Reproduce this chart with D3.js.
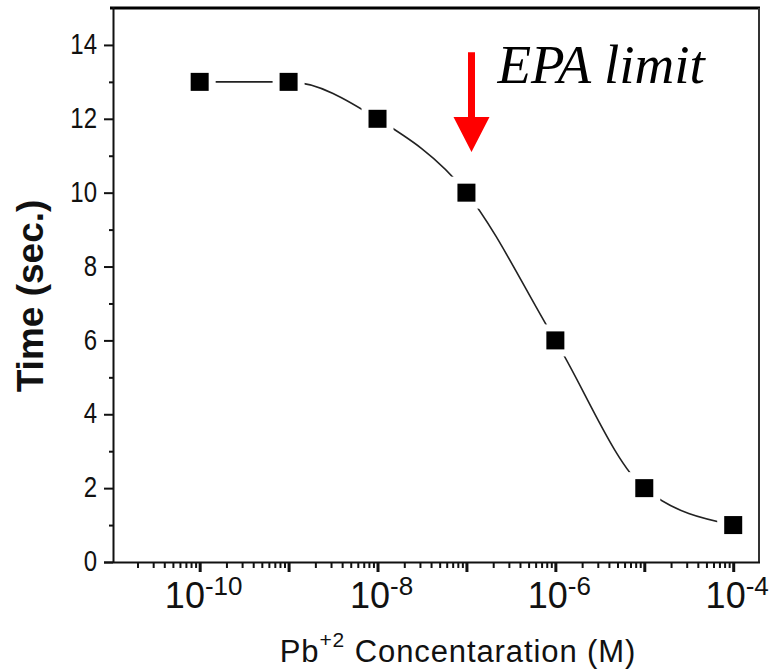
<!DOCTYPE html>
<html>
<head>
<meta charset="utf-8">
<script src="https://cdn.jsdelivr.net/npm/d3@7"></script>
<style>
  body { margin: 0; background: #fff; }
  .axis path, .axis line { stroke: #111; }
  .axis text { font-family: "Liberation Sans", Arial, sans-serif; fill: #111; }
</style>
</head>
<body>
<svg class="chart" width="774" height="671"></svg>
<script>
// data
var concentration = [1e-10, 1e-9, 1e-8, 1e-7, 1e-6, 1e-5, 1e-4];
var timeSec = [13, 13, 12, 10, 6, 2, 1];
var yTicks = [0, 2, 4, 6, 8, 10, 12, 14];
var yMinorTicks = [1, 3, 5, 7, 9, 11, 13];
var xDecades = [-10, -9, -8, -7, -6, -5, -4];
var xLabelExps = [-10, -8, -6, -4];
var epaArrow = {x: 1.14e-7, top: 13.8, tip: 11.1, label: 'EPA limit'};

var svg = d3.select('svg.chart');
var svgWidth = +svg.attr('width');
var svgHeight = +svg.attr('height');
var padding = {t: 8, r: 15, b: 109, l: 113};
var chartWidth = svgWidth - padding.l - padding.r;
var chartHeight = svgHeight - padding.t - padding.b;

var xScale = d3.scaleLog().domain([1.06e-11, 1.95e-4]).range([0, chartWidth]);
var yScale = d3.scaleLinear().domain([0, 15]).range([chartHeight, 0]);

var chartG = svg.append('g')
    .attr('transform', 'translate(' + [padding.l, padding.t] + ')');

// frame: thick top line, thin right line
chartG.append('line')
    .attr('x1', -3).attr('x2', chartWidth + 1)
    .attr('y1', 0).attr('y2', 0)
    .attr('stroke', '#000').attr('stroke-width', 3);
chartG.append('line')
    .attr('x1', chartWidth).attr('x2', chartWidth)
    .attr('y1', 0).attr('y2', chartHeight)
    .attr('stroke', '#333').attr('stroke-width', 2);

// minor x ticks (2..9 in each decade)
var xMinor = [];
for (var e = -11; e <= -4; e++) {
  for (var m = 2; m <= 9; m++) {
    var v = m * Math.pow(10, e);
    if (v > xScale.domain()[0] && v < xScale.domain()[1]) xMinor.push(v);
  }
}
var xMinorG = chartG.append('g')
    .attr('class', 'x axis')
    .attr('transform', 'translate(0,' + chartHeight + ')')
    .call(d3.axisBottom(xScale).tickValues(xMinor).tickSize(6).tickSizeOuter(0).tickFormat(''));
xMinorG.selectAll('.tick line').attr('stroke-width', 2);
xMinorG.select('.domain').attr('stroke-width', 2)
    .attr('d', 'M-9,0.5H' + (chartWidth + 1));

var xMajorG = chartG.append('g')
    .attr('class', 'x axis')
    .attr('transform', 'translate(0,' + chartHeight + ')')
    .call(d3.axisBottom(xScale).tickValues(xDecades.map(function(d) { return Math.pow(10, d); }))
      .tickSize(10).tickSizeOuter(0).tickFormat(''));
xMajorG.select('.domain').remove();
xMajorG.selectAll('.tick line').attr('stroke-width', 3);

// x tick labels with superscript exponents
var xLabels = chartG.append('g').attr('class', 'axis');
xLabelExps.forEach(function(ex) {
  var t = xLabels.append('text')
      .attr('x', xScale(Math.pow(10, ex)) + 4)
      .attr('y', chartHeight + 46)
      .attr('text-anchor', 'middle');
  t.append('tspan').style('font-size', '36px').text('10');
  t.append('tspan').style('font-size', '26px').attr('dy', -13).text('-' + Math.abs(ex));
});

// y axis
var yMinorG = chartG.append('g')
    .attr('class', 'y axis')
    .call(d3.axisLeft(yScale).tickValues(yMinorTicks).tickSize(4).tickSizeOuter(0).tickFormat(''));
yMinorG.select('.domain').remove();
yMinorG.selectAll('.tick line').attr('stroke-width', 2);

var yAxisG = chartG.append('g')
    .attr('class', 'y axis')
    .call(d3.axisLeft(yScale).tickValues(yTicks).tickSize(9).tickPadding(7).tickSizeOuter(0));
yAxisG.select('.domain').attr('stroke-width', 2)
    .attr('d', 'M0.5,' + chartHeight + 'V-1');
yAxisG.selectAll('.tick line').attr('stroke-width', 2);
yAxisG.selectAll('.tick text')
    .style('font-size', '24px')
    .attr('dy', '0.3em')
    .attr('transform', 'scale(1,1.2)');

// axis titles
chartG.append('text')
    .attr('transform', 'translate(' + (43 - padding.l) + ',' + (chartHeight / 2 + 11) + ') rotate(-90)')
    .attr('text-anchor', 'middle')
    .style('font-family', '"Liberation Sans", Arial, sans-serif')
    .style('font-weight', 'bold')
    .style('font-size', '37px')
    .attr('fill', '#111')
    .text('Time (sec.)');

var xTitle = chartG.append('text')
    .attr('x', 458 - padding.l)
    .attr('y', chartHeight + 100)
    .attr('text-anchor', 'middle')
    .style('font-family', '"Liberation Sans", Arial, sans-serif')
    .style('font-size', '31px')
    .style('letter-spacing', '0.9px')
    .attr('fill', '#111');
xTitle.append('tspan').text('Pb');
xTitle.append('tspan').style('font-size', '21px').attr('dy', -15).text('+2');
xTitle.append('tspan').attr('dy', 15).text(' Concentaration (M)');

// fitted curve, broken around the markers
var points = concentration.map(function(c, i) { return {x: c, y: timeSec[i]}; });
var line = d3.line()
    .x(function(d) { return xScale(d.x); })
    .y(function(d) { return yScale(d.y); })
    .curve(d3.curveMonotoneX);
chartG.append('path')
    .datum(points)
    .attr('d', line)
    .attr('fill', 'none')
    .attr('stroke', '#222')
    .attr('stroke-width', 1.6);

var sz = 18, gap = 7;
chartG.selectAll('.halo')
    .data(points).enter()
    .append('rect')
    .attr('class', 'halo')
    .attr('x', function(d) { return xScale(d.x) - sz / 2 - gap; })
    .attr('y', function(d) { return yScale(d.y) - sz / 2 - gap; })
    .attr('width', sz + 2 * gap).attr('height', sz + 2 * gap)
    .attr('fill', '#fff');
chartG.selectAll('.dot')
    .data(points).enter()
    .append('rect')
    .attr('class', 'dot')
    .attr('x', function(d) { return xScale(d.x) - sz / 2; })
    .attr('y', function(d) { return yScale(d.y) - sz / 2; })
    .attr('width', sz).attr('height', sz)
    .attr('fill', '#000');

// EPA limit arrow
var ax = xScale(epaArrow.x);
var yTop = yScale(epaArrow.top), yTip = yScale(epaArrow.tip);
var headH = 35, headW = 36, shaftW = 7;
chartG.append('path')
    .attr('d', 'M' + (ax - shaftW / 2) + ',' + yTop +
               'H' + (ax + shaftW / 2) +
               'V' + (yTip - headH) +
               'H' + (ax + headW / 2) +
               'L' + ax + ',' + yTip +
               'L' + (ax - headW / 2) + ',' + (yTip - headH) +
               'H' + (ax - shaftW / 2) + 'Z')
    .attr('fill', '#ff0000');

chartG.append('text')
    .attr('x', ax + 26)
    .attr('y', yTop + 31)
    .style('font-family', '"Liberation Serif", "Times New Roman", serif')
    .style('font-style', 'italic')
    .style('font-size', '55px')
    .attr('fill', '#000')
    .text(epaArrow.label);
</script>
</body>
</html>
